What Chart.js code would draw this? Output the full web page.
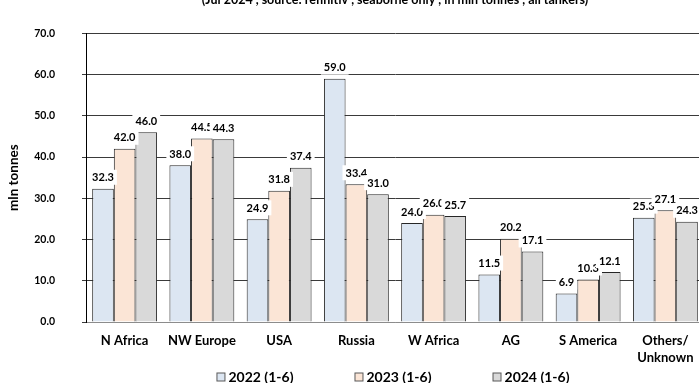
<!DOCTYPE html>
<html>
<head>
<meta charset="utf-8">
<script src="https://cdn.jsdelivr.net/npm/chart.js@4.4.1/dist/chart.umd.min.js"></script>
<style>
  html, body { margin: 0; padding: 0; background: #ffffff; overflow: hidden; }
  #wrap { position: relative; width: 705px; height: 383px; }
</style>
</head>
<body>
<div id="wrap"><canvas id="c" width="705" height="383"></canvas></div>
<script>
// Crude imports by origin, Jan-Jun of each year
const categories = ['N Africa', 'NW Europe', 'USA', 'Russia', 'W Africa', 'AG', 'S America', ['Others/', 'Unknown']];
const seriesLabels = ['2022 (1-6)', '2023 (1-6)', '2024 (1-6)'];
const values2022 = [32.3, 38.0, 24.9, 59.0, 24.0, 11.5, 6.9, 25.3];
const values2023 = [42.0, 44.5, 31.8, 33.4, 26.0, 20.2, 10.3, 27.1];
const values2024 = [46.0, 44.3, 37.4, 31.0, 25.7, 17.1, 12.1, 24.3];
const yTicks = [0, 10, 20, 30, 40, 50, 60, 70];
const yAxisTitle = 'mln tonnes';
const subtitleText = '(Jul 2024 , source: refinitiv , seaborne only , in mln tonnes , all tankers)';

const fills = ['#dce6f2', '#fbe5d6', '#d9d9d9'];
const FONT = 'Lato, "Open Sans", sans-serif';

// White-boxed value labels above each bar (later series paint over earlier ones)
const valueLabels = {
  id: 'valueLabels',
  afterDatasetsDraw(chart) {
    const ctx = chart.ctx;
    ctx.save();
    ctx.font = 'bold 11px ' + FONT;
    ctx.textAlign = 'center';
    ctx.textBaseline = 'middle';
    chart.data.datasets.forEach((ds, di) => {
      const meta = chart.getDatasetMeta(di);
      meta.data.forEach((bar, i) => {
        const txt = Number(ds.data[i]).toFixed(1);
        const w = ctx.measureText(txt).width + 6;
        const cy = bar.y - 11.5;
        ctx.fillStyle = '#ffffff';
        ctx.fillRect(bar.x - w / 2, cy - 7.5, w, 15);
        ctx.fillStyle = '#000000';
        ctx.fillText(txt, bar.x, cy + 0.5);
      });
    });
    ctx.restore();
  }
};

// Subtitle line along the top edge
const subtitle = {
  id: 'subtitle',
  afterDraw(chart) {
    const ctx = chart.ctx;
    const a = chart.chartArea;
    ctx.save();
    ctx.font = 'bold 12.5px ' + FONT;
    ctx.fillStyle = '#000000';
    ctx.textAlign = 'center';
    ctx.textBaseline = 'alphabetic';
    ctx.fillText(subtitleText, (a.left + a.right) / 2, 4);
    ctx.restore();
  }
};

// Series key under the category labels
const seriesKey = {
  id: 'seriesKey',
  afterDraw(chart) {
    const ctx = chart.ctx;
    const a = chart.chartArea;
    const y = 377;
    const box = 9, boxGap = 3, itemGap = 61;
    ctx.save();
    ctx.font = 'bold 14px ' + FONT;
    ctx.textBaseline = 'middle';
    ctx.textAlign = 'left';
    const items = chart.data.datasets.map(ds => ({
      text: ds.label, fill: ds.backgroundColor, w: ctx.measureText(ds.label).width
    }));
    const total = items.reduce((s, it) => s + box + boxGap + it.w, 0) + itemGap * (items.length - 1);
    let x = (a.left + a.right) / 2 - 2 - total / 2;
    items.forEach(it => {
      ctx.fillStyle = it.fill;
      ctx.fillRect(x + 0.5, y - box / 2 + 0.5, box - 1, box - 1);
      ctx.strokeStyle = '#595959';
      ctx.lineWidth = 1;
      ctx.strokeRect(x + 0.5, y - box / 2 + 0.5, box - 1, box - 1);
      ctx.fillStyle = '#000000';
      ctx.fillText(it.text, x + box + boxGap, y + 0.5);
      x += box + boxGap + it.w + itemGap;
    });
    ctx.restore();
  }
};

const seriesValues = [values2022, values2023, values2024];

new Chart(document.getElementById('c'), {
  type: 'bar',
  data: {
    labels: categories,
    datasets: seriesLabels.map((label, i) => ({
      label: label,
      data: seriesValues[i],
      backgroundColor: fills[i],
      borderColor: '#262626',
      borderWidth: 1,
      categoryPercentage: 0.84,
      barPercentage: 1.0
    }))
  },
  options: {
    responsive: false,
    animation: false,
    layout: { padding: { top: 22, right: 1, bottom: 0, left: 0 } },
    plugins: {
      legend: { display: false },
      title: { display: false },
      tooltip: { enabled: false }
    },
    scales: {
      x: {
        grid: { display: false, drawTicks: false },
        border: { display: true, color: '#8c8c8c', width: 1 },
        ticks: {
          color: '#000000',
          font: { family: FONT, weight: 'bold', size: 13, lineHeight: 1.3 },
          padding: 10,
          maxRotation: 0,
          autoSkip: false
        },
        afterFit(scale) { scale.height = 61; }
      },
      y: {
        min: 0,
        max: 70,
        afterBuildTicks(scale) { scale.ticks = yTicks.map(v => ({ value: v })); },
        grid: {
          color: ctx => (ctx.tick && ctx.tick.value === 0) ? '#8c8c8c' : '#3a3a3a',
          lineWidth: 1,
          drawTicks: true,
          tickLength: 4,
          tickColor: '#3a3a3a'
        },
        border: { display: true, color: '#000000', width: 1 },
        ticks: {
          color: '#000000',
          font: { family: FONT, weight: 'bold', size: 10.5 },
          padding: 27,
          callback: v => Number(v).toFixed(1)
        },
        title: {
          display: true,
          text: yAxisTitle,
          color: '#000000',
          font: { family: FONT, weight: 'bold', size: 13.5 },
          padding: { top: 6, bottom: 0 }
        },
        afterFit(scale) { scale.width = 86; }
      }
    }
  },
  plugins: [valueLabels, subtitle, seriesKey]
});
</script>
</body>
</html>
